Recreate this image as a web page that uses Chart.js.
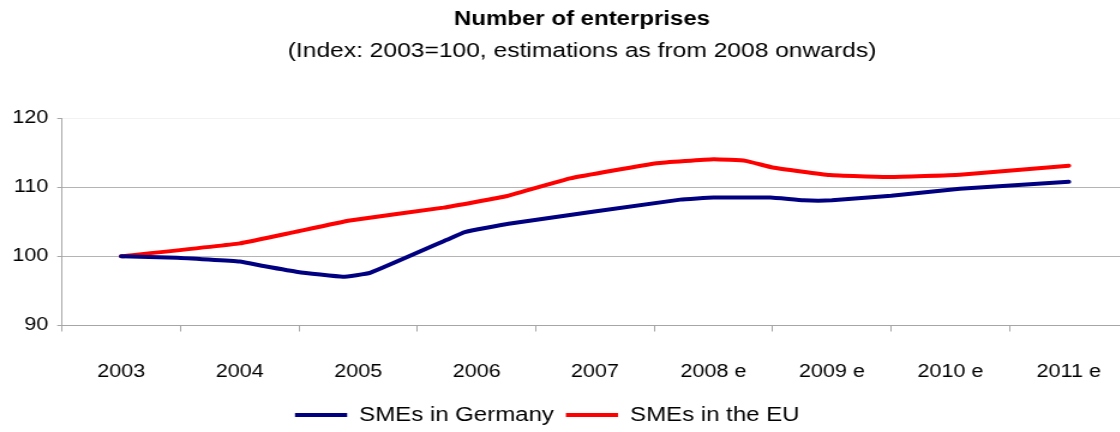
<!DOCTYPE html>
<html>
<head>
<meta charset="utf-8">
<script src="https://cdn.jsdelivr.net/npm/chart.js@4"></script>
<style>
  html, body { margin: 0; padding: 0; background: #ffffff; overflow: hidden; width: 1120px; height: 432px; }
  /* the chart is laid out narrow and widened horizontally */
  #wrap { width: 950px; height: 432px; transform: scaleX(1.2); transform-origin: 0 0; }
  canvas { display: block; }
</style>
</head>
<body>
<div id="wrap"><canvas id="chart" width="950" height="432"></canvas></div>
<script>
// Category axis labels
const categories = ['2003', '2004', '2005', '2006', '2007', '2008 e', '2009 e', '2010 e', '2011 e'];
const yTickValues = [90, 100, 110, 120];

// Position along the year axis (0 = 2003 ... 8 = 2011 e) and index value
const germanyPos = [0, 0.47, 1, 1.2, 1.49, 1.87, 2.1, 2.75, 2.9, 3.27, 4.72, 5, 5.48, 5.76, 6, 6.5, 7.08, 8];
const germanyVal = [100, 99.8, 99.24, 98.6, 97.74, 97.05, 97.6, 102.4, 103.5, 104.7, 108.2, 108.5, 108.5, 108.1, 108.1, 108.76, 109.78, 110.77];

const euPos = [0, 1, 1.46, 1.93, 2.72, 3.26, 3.79, 4.52, 5, 5.27, 5.5, 5.98, 6.49, 7.08, 8];
const euVal = [100, 101.87, 103.5, 105.18, 107.04, 108.73, 111.27, 113.46, 114.04, 113.8, 112.85, 111.75, 111.46, 111.8, 113.1];

const toPoints = (pos, val) => pos.map((p, i) => ({ x: p, y: val[i] }));

const FONT = "'Liberation Sans', Arial, sans-serif";
const AXIS_GREY = '#a6a6a6';
const subtitleText = '(Index: 2003=100, estimations as from 2008 onwards)';

// Nudge the title block right and the legend row left/down
const boxOffsets = {
  id: 'boxOffsets',
  afterLayout(chart) {
    const move = (box, dx, dy) => {
      if (!box) return;
      box.left += dx; box.right += dx;
      box.top += dy; box.bottom += dy;
    };
    move(chart.titleBlock, 15, 0);
    const sub = chart.boxes.find(b => b.options && b.options.text === subtitleText);
    move(sub, 15, 0);
    move(chart.legend, -14, 3);
  }
};

new Chart(document.getElementById('chart'), {
  type: 'line',
  data: {
    labels: categories,
    datasets: [
      {
        label: 'SMEs in Germany',
        data: toPoints(germanyPos, germanyVal),
        xAxisID: 'xv',
        borderColor: '#000080',
        backgroundColor: '#000080',
        borderWidth: 4,
        pointRadius: 0,
        tension: 0.1,
        borderJoinStyle: 'round',
        borderCapStyle: 'round'
      },
      {
        label: 'SMEs in the EU',
        data: toPoints(euPos, euVal),
        xAxisID: 'xv',
        borderColor: '#ff0000',
        backgroundColor: '#ff0000',
        borderWidth: 4,
        pointRadius: 0,
        tension: 0.1,
        borderJoinStyle: 'round',
        borderCapStyle: 'round'
      }
    ]
  },
  options: {
    responsive: false,
    animation: false,
    events: [],
    layout: { padding: { left: 0, right: 10, top: 0, bottom: 0 } },
    scales: {
      x: {
        type: 'category',
        position: 'bottom',
        offset: true,
        grid: { display: true, offset: true, drawOnChartArea: false, drawTicks: true, tickLength: 6, tickColor: AXIS_GREY },
        border: { display: true, color: AXIS_GREY, width: 1 },
        ticks: { color: '#000', font: { family: FONT, size: 18 }, padding: 29.5, maxRotation: 0, autoSkip: false },
        afterFit(scale) { scale.height = 66.5; }
      },
      xv: {
        type: 'linear',
        display: false,
        min: -0.5,
        max: 8.5
      },
      y: {
        min: 90,
        max: 120,
        afterBuildTicks(scale) { scale.ticks = yTickValues.map(v => ({ value: v })); },
        grid: {
          color: ctx => (ctx.tick && ctx.tick.value === 120) ? '#f2f2f2' : '#b4b4b4',
          tickColor: AXIS_GREY,
          tickLength: 4,
          lineWidth: 1
        },
        border: { display: true, color: AXIS_GREY, width: 1 },
        ticks: { color: '#000', font: { family: FONT, size: 18 }, padding: 7.5 },
        afterFit(scale) { scale.width = 51.7; }
      }
    },
    plugins: {
      title: {
        display: true,
        text: 'Number of enterprises',
        color: '#000',
        font: { family: FONT, size: 20, weight: 'bold', lineHeight: 1.2 },
        padding: { top: 7.5, bottom: 7.2 }
      },
      subtitle: {
        display: true,
        text: subtitleText,
        color: '#000',
        font: { family: FONT, size: 20.5, weight: 'normal', lineHeight: 1.2 },
        padding: { top: 0, bottom: 54.7 }
      },
      legend: {
        display: true,
        position: 'bottom',
        labels: {
          color: '#000',
          font: { family: FONT, size: 20 },
          usePointStyle: true,
          pointStyle: 'line',
          pointStyleWidth: 43.5,
          boxHeight: 4,
          padding: 10
        }
      },
      tooltip: { enabled: false }
    }
  },
  plugins: [boxOffsets]
});
</script>
</body>
</html>
